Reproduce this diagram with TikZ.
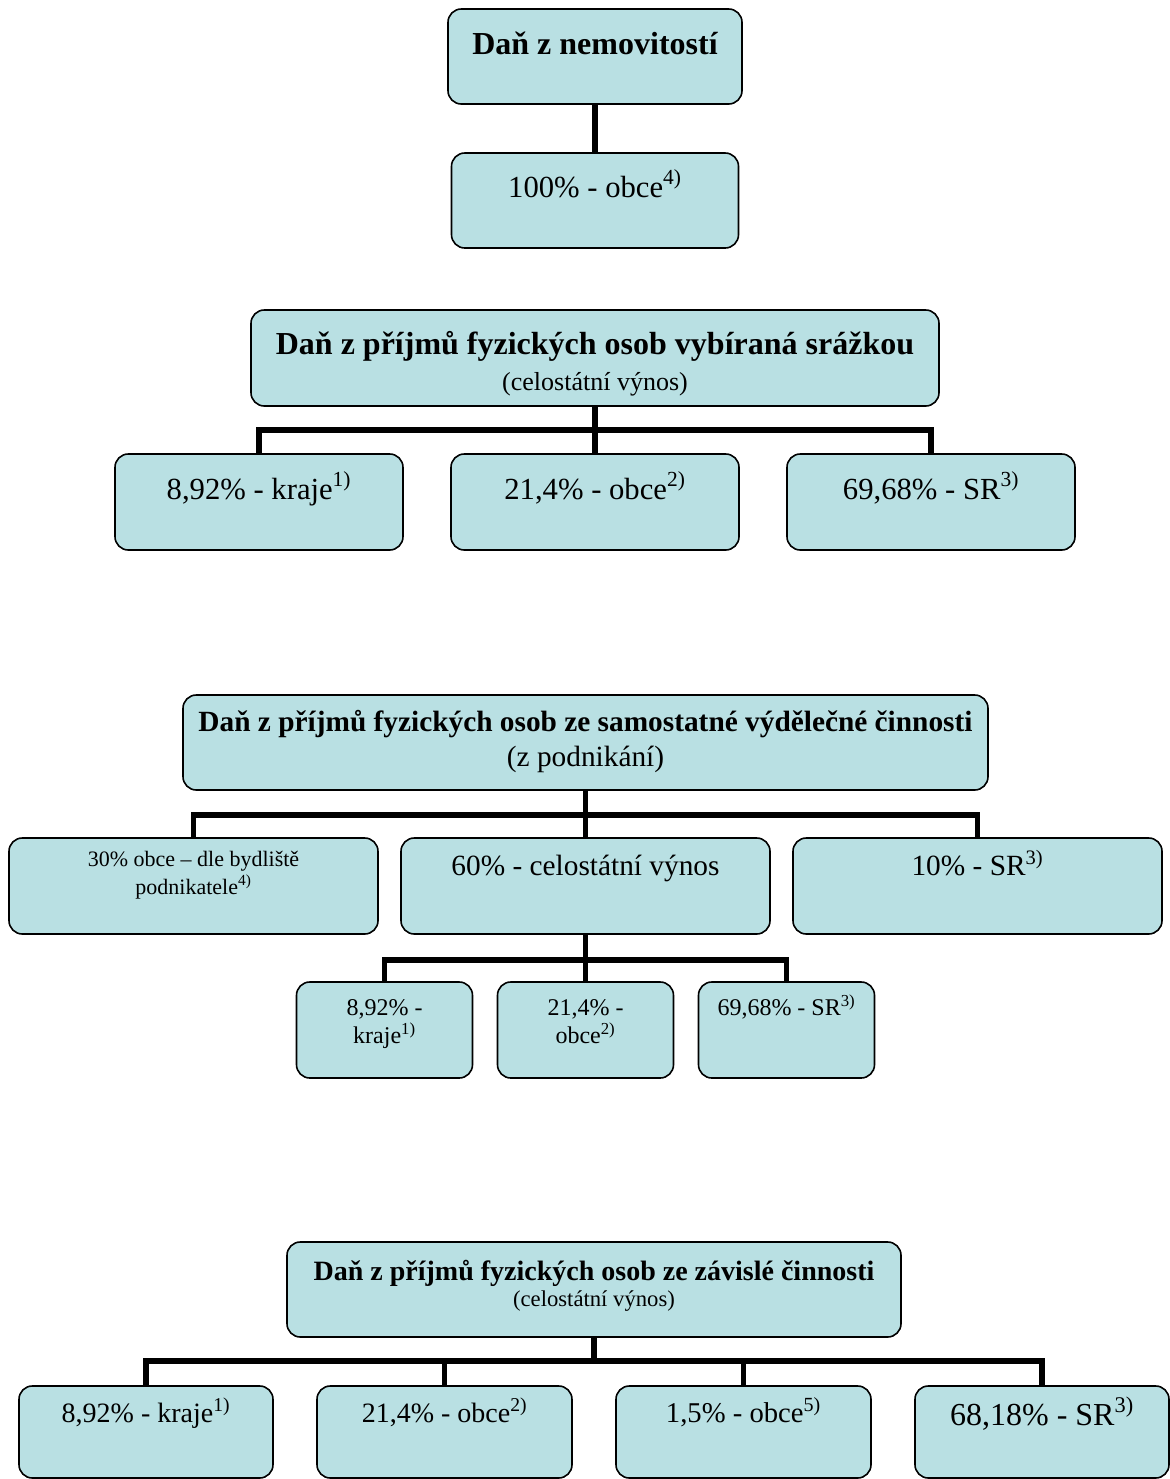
\documentclass[tikz,border=0pt]{standalone}
\usepackage{fontspec}
\setmainfont{Liberation Serif}
\usepackage{tikz}
\definecolor{boxblue}{HTML}{B9E0E3}
\tikzset{
  box/.style 2 args={draw=black,line width=1.2pt,fill=boxblue,rounded corners=10pt,
    minimum width=#1*0.75pt,minimum height=#2*0.75pt,inner sep=0pt},
  txt/.style={inner sep=0pt,anchor=base,align=center},
  tb/.style={txt,font=\fontsize{#1}{#1}\selectfont\bfseries},
  tr/.style={txt,font=\fontsize{#1}{#1}\selectfont},
  conn/.style={line width=4pt},
}

\begin{document}
\begin{tikzpicture}[x=0.75pt,y=-0.75pt]
    \useasboundingbox (0,0) rectangle (1170,1479);
    % dan z nemovitosti
    \node[box={294}{95}](nem) at (595,56.5) {};
    \node[box={287}{95}](nemo) at (595,200.5) {};
    \draw[conn](nem.south)--(nemo.north);
    \node[tb=24](nemt) at (595,54) {Daň z nemovitostí};
    \node[tr=23](nemot) at (595,197) {100\% - obce\textsuperscript{4)}};
    % srazkova dan
    \node[box={688}{96}](srz) at (595,358) {};
    \node[box={288}{96}](srzk) at (259,502) {};
    \node[box={288}{96}](srzo) at (595,502) {};
    \node[box={288}{96}](srzs) at (931,502) {};
    \coordinate(srzj) at (595,430);
    \draw[conn](srz.south)--(srzo.north);
    \draw[conn](srzk.north)|-(srzj)-|(srzs.north);
    \node[tb=24](srzt) at (595,354) {Daň z příjmů fyzických osob vybíraná srážkou};
    \node[tr=19.5](srzp) at (595,390) {(celostátní výnos)};
    \node[tr=23](srzkt) at (259,499) {8,92\% - kraje\textsuperscript{1)}};
    \node[tr=23](srzot) at (595,499) {21,4\% - obce\textsuperscript{2)}};
    \node[tr=23](srzst) at (931,499) {69,68\% - SR\textsuperscript{3)}};
    % samostatna vydelecna cinnost
    \node[box={805}{95}](sam) at (585.5,742.5) {};
    \node[box={369}{96}](samo) at (193.5,886) {};
    \node[box={369}{96}](samc) at (585.5,886) {};
    \node[box={369}{96}](sams) at (977.5,886) {};
    \coordinate(samj) at (585.5,815);
    \draw[conn](sam.south)--(samc.north);
    \draw[conn](samo.north)|-(samj)-|(sams.north);
    \node[tb=22](samt) at (585.5,731) {Daň z příjmů fyzických osob ze samostatné výdělečné činnosti};
    \node[tr=22](samp) at (585.5,766) {(z podnikání)};
    \node[txt,font=\fontsize{16.5}{21}\selectfont](samot) at (193.5,894) {30\% obce – dle bydliště\\podnikatele\textsuperscript{4)}};
    \node[tr=22](samct) at (585.5,875) {60\% - celostátní výnos};
    \node[tr=22](samst) at (977.5,875) {10\% - SR\textsuperscript{3)}};
    \node[box={176}{96}](ck) at (384.5,1030) {};
    \node[box={176}{96}](co) at (585.5,1030) {};
    \node[box={176}{96}](cs) at (786.5,1030) {};
    \coordinate(cj) at (585.5,960);
    \draw[conn](samc.south)--(co.north);
    \draw[conn](ck.north)|-(cj)-|(cs.north);
    \node[txt,font=\fontsize{18}{21}\selectfont](ckt) at (384.5,1043) {8,92\% -\\kraje\textsuperscript{1)}};
    \node[txt,font=\fontsize{18}{21}\selectfont](cot) at (585.5,1043) {21,4\% -\\obce\textsuperscript{2)}};
    \node[tr=18](cst) at (786.5,1015) {69,68\% - SR\textsuperscript{3)}};
    % zavisla cinnost
    \node[box={614}{95}](zav) at (594,1289.5) {};
    \node[box={254}{92}](zk) at (146,1432) {};
    \node[box={255}{92}](zo) at (444.5,1432) {};
    \node[box={255}{92}](zp) at (743.5,1432) {};
    \node[box={254}{92}](zs) at (1042,1432) {};
    \coordinate(zavj) at (594,1361);
    \draw[conn](zav.south)--(zavj);
    \draw[conn](zk.north)|-(zavj)-|(zs.north);
    \draw[conn](zo.north)--(zo.north|-zavj);
    \draw[conn](zp.north)--(zp.north|-zavj);
    \node[tb=21](zavt) at (594,1280) {Daň z příjmů fyzických osob ze závislé činnosti};
    \node[tr=17](zavp) at (594,1306) {(celostátní výnos)};
    \node[tr=21](zkt) at (146,1422) {8,92\% - kraje\textsuperscript{1)}};
    \node[tr=21](zot) at (444.5,1422) {21,4\% - obce\textsuperscript{2)}};
    \node[tr=21.5](zpt) at (743.5,1422) {1,5\% - obce\textsuperscript{5)}};
    \node[tr=24](zst) at (1042,1425) {68,18\% - SR\textsuperscript{3)}};
\end{tikzpicture}
\end{document}
